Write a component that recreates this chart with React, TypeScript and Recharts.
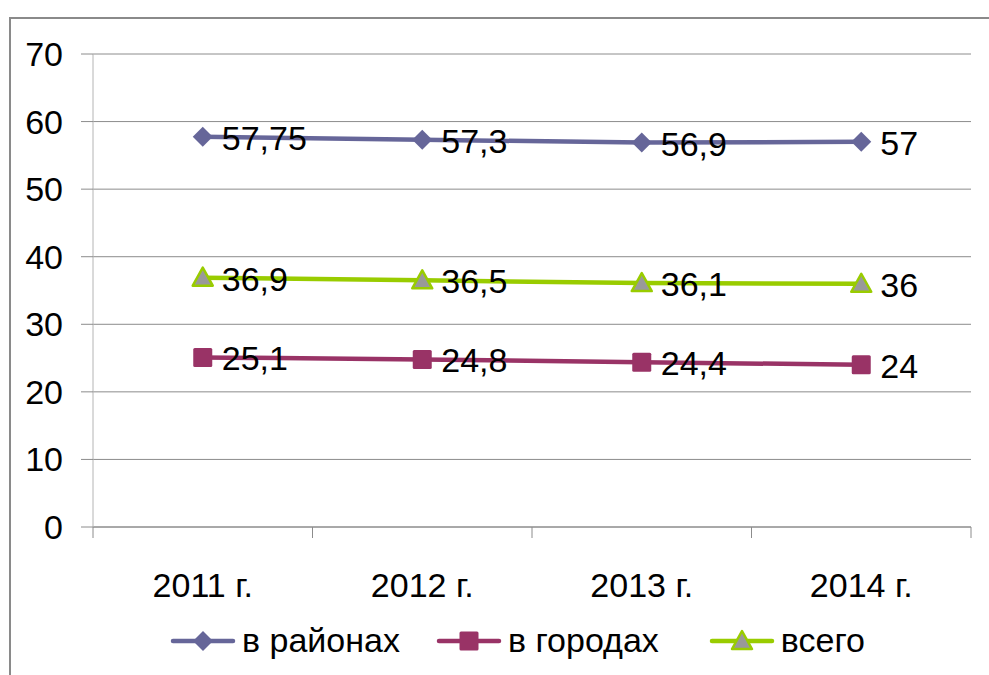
import React from 'react';
import { LineChart, Line, XAxis, YAxis, CartesianGrid, Legend, LabelList } from 'recharts';

const years = ['2011 г.', '2012 г.', '2013 г.', '2014 г.'];
const districts = [57.75, 57.3, 56.9, 57];
const cities = [25.1, 24.8, 24.4, 24];
const total = [36.9, 36.5, 36.1, 36];
const yTicks = [0, 10, 20, 30, 40, 50, 60, 70];

const FONT = '"Liberation Sans", Arial, sans-serif';
const FS = 34;
const GRID = '#8c8c8c';

const series = [
  { key: 'districts', name: 'в районах', color: '#666699', fill: '#666699', marker: 'diamond', gap: 36 },
  { key: 'cities', name: 'в городах', color: '#993366', fill: '#993366', marker: 'square', gap: 50 },
  { key: 'total', name: 'всего', color: '#99cc00', fill: '#999999', marker: 'triangle', gap: 0 },
];

const data = years.map((year, i) => ({
  year,
  districts: districts[i],
  cities: cities[i],
  total: total[i],
}));

const fmt = (v: number) => String(v).replace('.', ',');

function Marker({ type, cx, cy, color, fill }: any) {
  if (cx == null || cy == null) return null;
  if (type === 'diamond') {
    const r = 10;
    return <polygon points={`${cx},${cy - r} ${cx + r},${cy} ${cx},${cy + r} ${cx - r},${cy}`} fill={fill} />;
  }
  if (type === 'square') {
    return <rect x={cx - 9.5} y={cy - 9.5} width={19} height={19} rx={1.5} fill={fill} />;
  }
  return (
    <polygon
      points={`${cx},${cy - 10} ${cx + 10},${cy + 8} ${cx - 10},${cy + 8}`}
      fill={fill}
      stroke={color}
      strokeWidth={2.5}
      strokeLinejoin="round"
    />
  );
}

const ValueLabel = (props: any) => {
  const x = props.x ?? props.viewBox?.x;
  const y = props.y ?? props.viewBox?.y;
  if (x == null || y == null) return null;
  return (
    <text x={x + 19} y={y + 1} dominantBaseline="central" fontSize={FS} fontFamily={FONT} fill="#000">
      {fmt(props.value)}
    </text>
  );
};

const CategoryTick = (props: any) => {
  const { x, y, payload, index, visibleTicksCount } = props;
  const half = payload?.offset ?? 0;
  return (
    <g>
      <line x1={x - half} x2={x - half} y1={y} y2={y + 11} stroke={GRID} />
      {index === visibleTicksCount - 1 && (
        <line x1={x + half} x2={x + half} y1={y} y2={y + 11} stroke={GRID} />
      )}
      <text x={x} y={y + 58} textAnchor="middle" dominantBaseline="central" fontSize={FS} fontFamily={FONT} fill="#000">
        {payload.value}
      </text>
    </g>
  );
};

const LegendContent = () => (
  <div style={{ display: 'flex', alignItems: 'center', paddingLeft: 170, fontFamily: FONT, fontSize: FS, color: '#000' }}>
    {series.map((s) => (
      <div key={s.key} style={{ display: 'flex', alignItems: 'center', marginRight: s.gap }}>
        <svg width={66} height={30} style={{ marginRight: 6 }}>
          <line x1={3} x2={63} y1={15} y2={15} stroke={s.color} strokeWidth={4.5} strokeLinecap="round" />
          <Marker type={s.marker} cx={33} cy={15} color={s.color} fill={s.fill} />
        </svg>
        <span>{s.name}</span>
      </div>
    ))}
  </div>
);

export default function App() {
  return (
    <div style={{ position: 'absolute', left: 0, top: 0, width: 989, height: 675, overflow: 'hidden', background: '#fff' }}>
      <div
        style={{
          position: 'absolute',
          left: 9,
          top: 17,
          width: 1100,
          height: 800,
          border: '2px solid #8a8a8a',
          boxSizing: 'border-box',
        }}
      />
      <LineChart width={989} height={675} data={data} margin={{ top: 54, right: 18, left: 0, bottom: 0 }}>
        <CartesianGrid vertical={false} stroke={GRID} />
        <XAxis
          dataKey="year"
          scale="band"
          height={148}
          axisLine={{ stroke: GRID }}
          tickLine={false}
          tickSize={0}
          tickMargin={0}
          tick={<CategoryTick />}
          interval={0}
        />
        <YAxis
          width={93}
          domain={[0, 70]}
          ticks={yTicks}
          interval={0}
          axisLine={{ stroke: '#b4b4b4' }}
          tickLine={{ stroke: GRID }}
          tickSize={12}
          tickMargin={18}
          tick={{ fontSize: FS, fontFamily: FONT, fill: '#000' }}
        />
        <Legend
          verticalAlign="middle"
          layout="horizontal"
          align="center"
          wrapperStyle={{ top: 621, left: 0, width: 989, height: 38 }}
          content={<LegendContent />}
        />
        {series.map((s) => (
          <Line
            key={s.key}
            dataKey={s.key}
            name={s.name}
            stroke={s.color}
            strokeWidth={4.5}
            isAnimationActive={false}
            dot={(p: any) => <Marker key={`${s.key}-${p.index}`} type={s.marker} cx={p.cx} cy={p.cy} color={s.color} fill={s.fill} />}
            activeDot={false}
          >
            <LabelList dataKey={s.key} content={<ValueLabel />} />
          </Line>
        ))}
      </LineChart>
    </div>
  );
}
